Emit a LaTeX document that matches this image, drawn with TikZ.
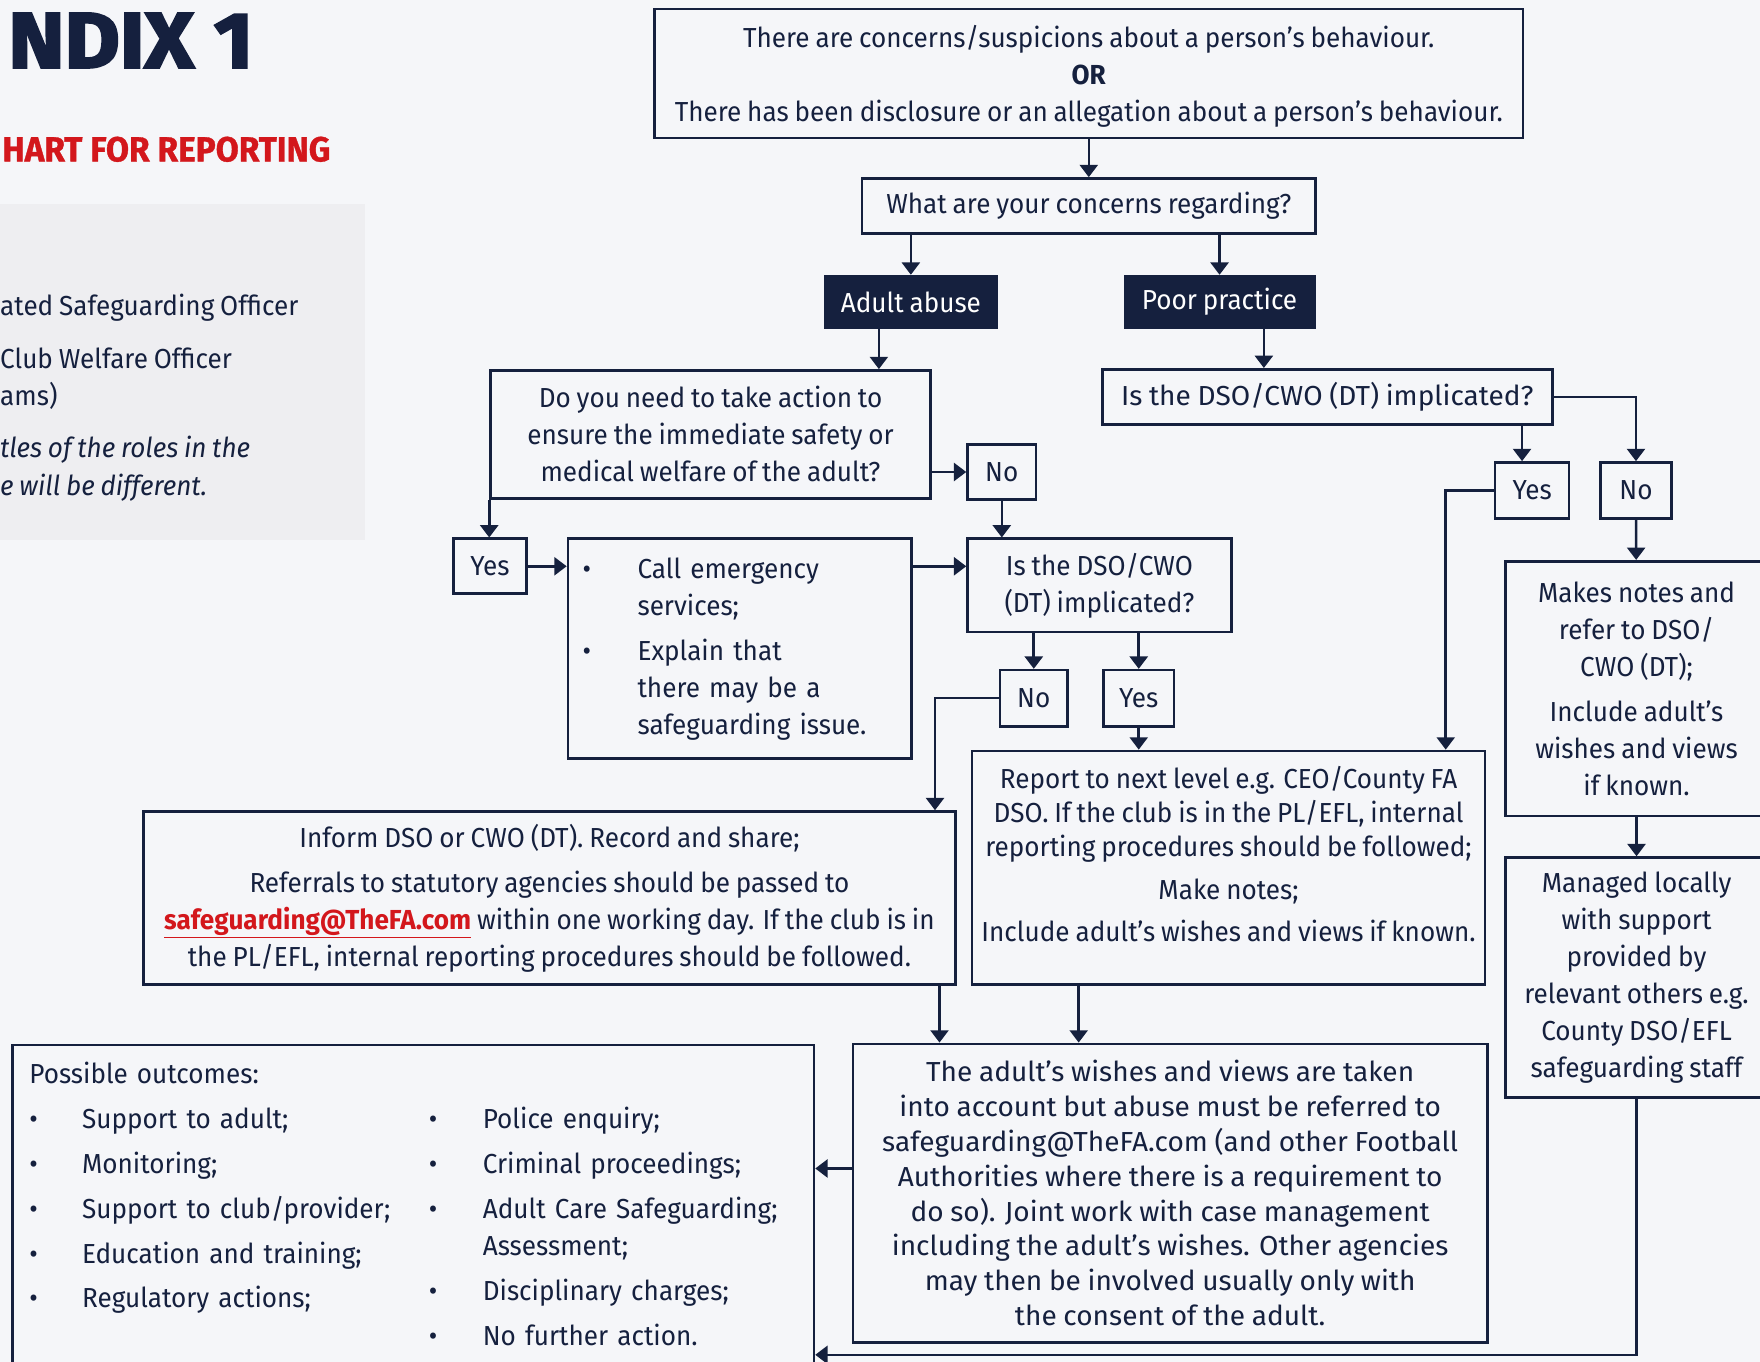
\documentclass[tikz,border=0pt]{standalone}
\usepackage{fontspec}
\setmainfont{Fira Sans}[FakeStretch=0.95, WordSpace=0.85]
\newfontfamily\widefont{Fira Sans}[FakeStretch=1.02, WordSpace=0.9]
\newfontfamily\headfont{Fira Sans}[FakeStretch=1.08, BoldFeatures={FakeBold=3}]
\newfontfamily\subfont{Fira Sans}[FakeStretch=0.96, BoldFeatures={FakeBold=1}]
\usepackage{xcolor}
\usetikzlibrary{arrows.meta}
\definecolor{navy}{HTML}{15203E}
\definecolor{fared}{HTML}{D3171C}
\definecolor{pagebg}{HTML}{F5F6F9}
\definecolor{panelbg}{HTML}{EEEEF1}
\newcommand{\famail}{\textcolor{fared}{\bfseries\underline{safeguarding@TheFA.com}}}

\begin{document}
\begin{tikzpicture}[
  x=1pt, y=-1pt,
  every node/.style={font=\fontsize{24.5}{33}\selectfont, text=navy, inner sep=0pt},
  box/.style      ={draw=navy, line width=2.3pt, align=center},
  filledbox/.style={fill=navy, text=white, align=center},
  arr/.style      ={draw=navy, line width=2.3pt, -{Triangle[length=11pt, width=16pt]}}]

\useasboundingbox (0,0) rectangle (1568,1213);
\clip (0,0) rectangle (1568,1213);
\fill[pagebg] (0,0) rectangle (1568,1213);

% =======================  page heading  ==============================
\fill[panelbg] (0,182) rectangle (325,481);
\node[anchor=east, font=\headfont\bfseries\fontsize{70}{72}\selectfont] (title) at (226,36) {NDIX 1};
\node[anchor=west, text=fared, font=\subfont\bfseries\fontsize{31}{34}\selectfont] (subtitle) at (2,133) {HART FOR REPORTING};
\node[anchor=base west] (key1) at (0,281) {ated Safeguarding Officer};
\node[anchor=base west] (key2) at (0,328) {Club Welfare Officer};
\node[anchor=base west] (key3) at (0,361) {ams)};
\node[anchor=base west, font=\fontsize{24.5}{33}\selectfont\itshape] (key4) at (0,408) {tles of the roles in the};
\node[anchor=base west, font=\fontsize{24.5}{33}\selectfont\itshape] (key5) at (0,441) {e will be different.};

% =======================  top of the chart  ==========================
\node[box, minimum width=774pt, minimum height=115pt] (start) at (970,65.5)
  {~\\[-9pt]There are concerns/suspicions about a person’s behaviour.\\ \textbf{OR}\\
   There has been disclosure or an allegation about a person’s behaviour.};
\node[box, minimum width=404pt, minimum height=49pt] (regard) at (970,183.5) {What are your concerns regarding?};
\node[filledbox, minimum width=155pt, minimum height=48pt] (abuse) at (811.5,269) {Adult abuse};
\node[filledbox, minimum width=171pt, minimum height=48pt] (poor) at (1086.5,269) {Poor practice};

% =======================  adult abuse branch  ========================
\node[box, minimum width=392pt, minimum height=114pt] (action) at (633,387)
  {Do you need to take action to\\ ensure the immediate safety or\\ medical welfare of the adult?};
\node[box, minimum width=61pt, minimum height=49pt] (actno) at (892.5,420.5) {No};
\node[box, minimum width=65pt, minimum height=49pt] (actyes) at (436.5,504.5) {Yes};
\node[box, minimum width=306pt, minimum height=196pt, text width=280pt, align=left] (emergency) at (659,578)
  {\begin{tabular}{@{}p{49pt}@{}l@{}}
   \textbullet & Call emergency\\ & services;\\[7pt]
   \textbullet & Explain that\\ & there may be a\\ & safeguarding issue.
   \end{tabular}};
\node[box, minimum width=235pt, minimum height=83pt] (implic) at (979.5,521.5) {Is the DSO/CWO\\ (DT) implicated?};
\node[box, minimum width=60pt, minimum height=50pt] (impno) at (921,622) {No};
\node[box, minimum width=63pt, minimum height=50pt] (impyes) at (1014.5,622) {Yes};
\node[box, minimum width=723pt, minimum height=154pt] (inform) at (489.5,800)
  {Inform DSO or CWO (DT). Record and share;\\[7pt]
   Referrals to statutory agencies should be passed to\\
   \famail{} within one working day. If the club is in\\
   the PL/EFL, internal reporting procedures should be followed.};
\node[box, minimum width=457pt, minimum height=208pt, font=\fontsize{24.5}{30.5}\selectfont] (report) at (1094.5,773)
  {Report to next level e.g. CEO/County FA\\ DSO. If the club is in the PL/EFL, internal\\
   reporting procedures should be followed;\\[7.5pt] Make notes;\\[7.5pt]
   Include adult’s wishes and views if known.\\[-6pt]~};

% =======================  poor practice branch  ======================
\node[box, minimum width=401pt, minimum height=49pt, font=\widefont\fontsize{24.5}{33}\selectfont] (poorimp) at (1182.5,353.5) {Is the DSO/CWO (DT) implicated?};
\node[box, minimum width=66pt, minimum height=50pt] (pyes) at (1365,437) {Yes};
\node[box, minimum width=63pt, minimum height=50pt] (pno) at (1457.5,437) {No};
\node[box, minimum width=234pt, minimum height=227pt] (notes) at (1458,613.5)
  {Makes notes and\\ refer to DSO/\\ CWO (DT);\\[7pt] Include adult’s\\ wishes and views\\ if known.};
\node[box, minimum width=234pt, minimum height=214pt] (locally) at (1458,871)
  {Managed locally\\ with support\\ provided by\\ relevant others e.g.\\ County DSO/EFL\\ safeguarding staff};

% =======================  outcomes  ==================================
\node[box, minimum width=565pt, minimum height=266pt, font=\widefont\fontsize{24.5}{31}\selectfont] (wishes) at (1042.5,1063)
  {The adult’s wishes and views are taken\\ into account but abuse must be referred to\\
   safeguarding@TheFA.com (and other Football\\ Authorities where there is a requirement to\\
   do so). Joint work with case management\\ including the adult’s wishes. Other agencies\\
   may then be involved usually only with\\ the consent of the adult.};
\node[box, anchor=north west, text width=684pt, align=left, inner xsep=15pt, inner ysep=15pt] (outcomes) at (10,930)
  {Possible outcomes:\\[7pt]
   \begin{tabular}[t]{@{}p{47pt}@{}p{309pt}@{}}
   \textbullet & Support to adult;\\[7pt] \textbullet & Monitoring;\\[7pt]
   \textbullet & Support to club/provider;\\[7pt] \textbullet & Education and training;\\[7pt]
   \textbullet & Regulatory actions;
   \end{tabular}%
   \begin{tabular}[t]{@{}p{48pt}@{}l@{}}
   \textbullet & Police enquiry;\\[7pt] \textbullet & Criminal proceedings;\\[7pt]
   \textbullet & Adult Care Safeguarding;\\ & Assessment;\\[7pt]
   \textbullet & Disciplinary charges;\\[7pt] \textbullet & No further action.
   \end{tabular}\\[40pt]};

% =======================  connectors  ================================
\draw[arr] (start) -- (regard);
\draw[arr] (regard.south -| abuse) -- (abuse);
\draw[arr] (regard.south -| poor) -- (poor);
\draw[arr] (783,0 |- abuse.south) -- (783,0 |- action.north);
\draw[arr] (1126,0 |- poor.south) -- (1126,0 |- poorimp.north);
\draw[arr] (action.east |- actno) -- (actno);
\draw[arr] (action.south west) -- (action.south west |- actyes.north);
\draw[arr] (actyes) -- (emergency.west |- actyes);
\draw[arr] (emergency.east |- actyes) -- (implic.west |- actyes);
\draw[arr] (actno) -- (actno |- implic.north);
\draw[arr] (impno |- implic.south) -- (impno);
\draw[arr] (impyes |- implic.south) -- (impyes);
\draw[arr] (impno) -| (833,0 |- inform.north);
\draw[arr] (impyes) -- (impyes |- report.north);
\draw[arr] (poorimp) -| (pno);
\draw[arr] (1356,0 |- poorimp.south) -- (1356,0 |- pyes.north);
\draw[arr] (pyes) -| (1288,0 |- report.north);
\draw[arr] (pno) -- (notes);
\draw[arr] (notes) -- (locally);
\draw[arr] (locally) |- (outcomes.east |- 0,1207);
\draw[arr] (837,0 |- inform.south) -- (837,0 |- wishes.north);
\draw[arr] (961,0 |- report.south) -- (961,0 |- wishes.north);
\draw[arr] (wishes.west |- 0,1041) -- (outcomes.east |- 0,1041);

\end{tikzpicture}
\end{document}
